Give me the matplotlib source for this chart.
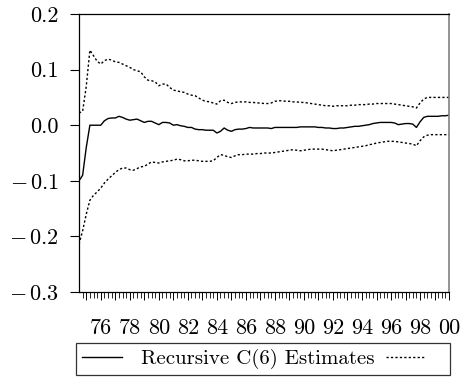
import numpy as np
import matplotlib
matplotlib.use("Agg")
import matplotlib.pyplot as plt
from matplotlib.ticker import FixedLocator, FuncFormatter
from matplotlib.lines import Line2D

# quarterly sample 1974Q3 .. 2000Q1
start_year = 74.5
n_obs = 103

estimate = [
    -0.100, -0.090, -0.040, 0.000, 0.000, 0.000, 0.000, 0.008, 0.012, 0.013,
    0.013, 0.016, 0.014, 0.011, 0.009, 0.010, 0.011, 0.008, 0.005, 0.007,
    0.007, 0.004, 0.001, 0.005, 0.005, 0.004, 0.000, 0.001, -0.001, -0.002,
    -0.004, -0.004, -0.007, -0.008, -0.008, -0.009, -0.009, -0.009, -0.014, -0.011,
    -0.005, -0.009, -0.011, -0.008, -0.007, -0.007, -0.006, -0.004, -0.005, -0.005,
    -0.005, -0.005, -0.005, -0.006, -0.004, -0.004, -0.004, -0.004, -0.004, -0.004,
    -0.004, -0.003, -0.003, -0.003, -0.003, -0.003, -0.004, -0.004, -0.005, -0.005,
    -0.006, -0.006, -0.005, -0.005, -0.004, -0.003, -0.002, -0.002, -0.001, 0.000,
    0.001, 0.003, 0.004, 0.005, 0.005, 0.005, 0.005, 0.004, 0.001, 0.002,
    0.003, 0.003, 0.002, -0.004, 0.006, 0.014, 0.016, 0.016, 0.016, 0.016,
    0.017, 0.017, 0.018,
]

upper = [
    0.022, 0.025, 0.070, 0.135, 0.125, 0.115, 0.110, 0.116, 0.119, 0.117,
    0.114, 0.113, 0.110, 0.107, 0.104, 0.100, 0.098, 0.096, 0.087, 0.081,
    0.080, 0.078, 0.071, 0.074, 0.074, 0.068, 0.063, 0.062, 0.060, 0.059,
    0.056, 0.054, 0.053, 0.049, 0.045, 0.043, 0.042, 0.040, 0.038, 0.044,
    0.045, 0.041, 0.039, 0.041, 0.042, 0.042, 0.042, 0.041, 0.041, 0.040,
    0.040, 0.039, 0.039, 0.040, 0.043, 0.044, 0.044, 0.043, 0.043, 0.042,
    0.042, 0.041, 0.041, 0.040, 0.039, 0.038, 0.037, 0.036, 0.035, 0.035,
    0.034, 0.035, 0.035, 0.035, 0.035, 0.036, 0.036, 0.037, 0.037, 0.037,
    0.038, 0.038, 0.039, 0.039, 0.039, 0.039, 0.039, 0.038, 0.037, 0.036,
    0.035, 0.034, 0.033, 0.031, 0.040, 0.047, 0.050, 0.050, 0.050, 0.050,
    0.050, 0.050, 0.050,
]

lower = [
    -0.214, -0.190, -0.160, -0.135, -0.126, -0.120, -0.113, -0.104, -0.097, -0.091,
    -0.085, -0.080, -0.077, -0.077, -0.080, -0.081, -0.078, -0.075, -0.074, -0.070,
    -0.066, -0.067, -0.068, -0.066, -0.065, -0.064, -0.063, -0.061, -0.062, -0.064,
    -0.064, -0.063, -0.063, -0.064, -0.065, -0.065, -0.065, -0.064, -0.058, -0.053,
    -0.054, -0.057, -0.058, -0.055, -0.053, -0.053, -0.052, -0.052, -0.052, -0.051,
    -0.051, -0.050, -0.050, -0.050, -0.049, -0.048, -0.047, -0.046, -0.045, -0.044,
    -0.045, -0.046, -0.045, -0.044, -0.043, -0.043, -0.043, -0.043, -0.044, -0.045,
    -0.046, -0.045, -0.044, -0.043, -0.042, -0.041, -0.040, -0.039, -0.038, -0.037,
    -0.035, -0.034, -0.032, -0.031, -0.030, -0.029, -0.029, -0.029, -0.030, -0.031,
    -0.032, -0.033, -0.034, -0.037, -0.028, -0.021, -0.018, -0.017, -0.017, -0.017,
    -0.017, -0.017, -0.017,
]

yticks = [-0.3, -0.2, -0.1, 0.0, 0.1, 0.2]
ytick_labels = [r"$-\,$0.3", r"$-\,$0.2", r"$-\,$0.1", "0.0", "0.1", "0.2"]
year_labels = ["76", "78", "80", "82", "84", "86", "88", "90", "92", "94", "96", "98", "00"]

plt.rcParams["font.family"] = "cmr10"
plt.rcParams["mathtext.fontset"] = "cm"
plt.rcParams["axes.unicode_minus"] = False

t = start_year + 0.25 * np.arange(n_obs)

fig = plt.figure(figsize=(4.62, 3.83), dpi=100)
ax = fig.add_axes([0.171, 0.2376, 0.801, 0.7258])

ax.plot(t, estimate, color="black", lw=1.0)
dot_style = (0, (1.6, 1.6))
ax.plot(t, upper, color="black", lw=1.0, linestyle=dot_style)
ax.plot(t, lower, color="black", lw=1.0, linestyle=dot_style)

ax.set_xlim(t[0], t[-1])
ax.set_ylim(-0.3, 0.2)

ax.set_yticks(yticks)
ax.set_yticklabels(ytick_labels, fontsize=16)
ax.tick_params(axis="y", direction="out", length=6.5, width=0.8, pad=8)

major = np.arange(75, 101)
ax.xaxis.set_major_locator(FixedLocator(major))
ax.xaxis.set_minor_locator(FixedLocator(np.arange(74.75, 100.01, 0.25)))
lab_map = {76 + 2 * i: s for i, s in enumerate(year_labels)}
ax.xaxis.set_major_formatter(FuncFormatter(lambda v, p: lab_map.get(int(round(v)), "")))
ax.tick_params(axis="x", which="major", direction="out", length=6, width=0.7, labelsize=16, pad=13)
ax.tick_params(axis="x", which="minor", direction="out", length=4, width=0.6)

for side in ["left", "bottom", "top"]:
    ax.spines[side].set_color("black")
    ax.spines[side].set_linewidth(0.9)
ax.spines["right"].set_color("#808080")
ax.spines["right"].set_linewidth(1.2)

handles = [Line2D([], [], color="black", lw=1.0),
           Line2D([], [], color="black", lw=1.0, linestyle=dot_style)]
leg = fig.legend(handles, ["Recursive C(6) Estimates", ""], ncol=2, mode="expand",
                 loc="center", bbox_to_anchor=(0.1645, 0.018, 0.81, 0.089),
                 fontsize=15, frameon=True, fancybox=False, handlelength=1.9,
                 handletextpad=0.9, borderaxespad=0, borderpad=0.3)
leg.get_frame().set_edgecolor("black")
leg.get_frame().set_linewidth(0.9)

fig.savefig("out.png", dpi=100)
